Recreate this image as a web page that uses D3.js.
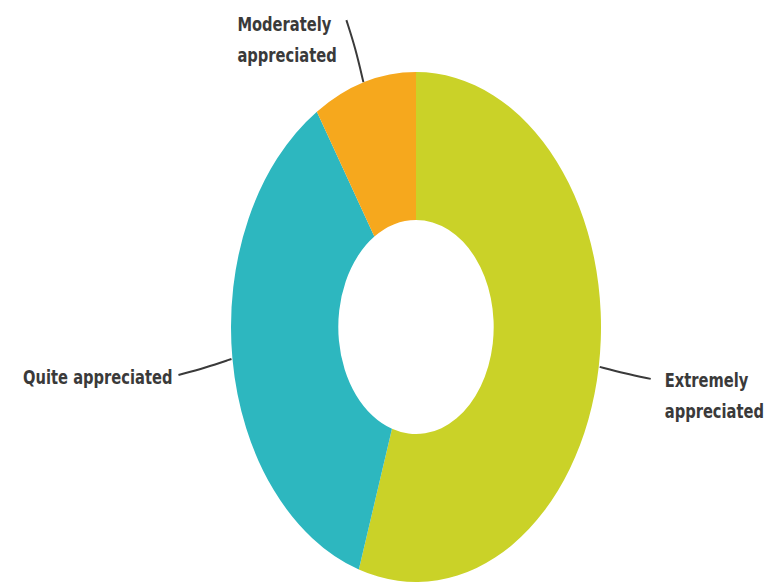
<!DOCTYPE html>
<html><head><meta charset="utf-8">
<script src="https://cdn.jsdelivr.net/npm/d3@7"></script>
<style>
html,body{margin:0;padding:0;background:#fff;}
svg{display:block;}
text{font-family:"DejaVu Sans Condensed","Liberation Sans",sans-serif;font-weight:bold;fill:#3a3a3a;}
</style></head>
<body>
<svg id="c" width="783" height="588"></svg>
<script>
const categories = ["Extremely appreciated", "Quite appreciated", "Moderately appreciated"];
const values = [55, 36, 9];
const colors = ["#cad228", "#2db7bf", "#f6a81d"];
const labelLines = [["Extremely", "appreciated"], ["Quite appreciated"], ["Moderately", "appreciated"]];

const W = 783, H = 588;
const cx = 416, cy = 327, ry = 255, rx = 185, inner = 0.42;
const svg = d3.select("#c");

const pie = d3.pie().sort(null).value(d => d.v);
const arcs = pie(categories.map((c, i) => ({c, v: values[i], i})));
const arc = d3.arc().innerRadius(ry * inner).outerRadius(ry);

const g = svg.append("g").attr("transform", `translate(${cx},${cy}) scale(${rx/ry},1)`);
g.selectAll("path").data(arcs).join("path")
  .attr("d", arc).attr("fill", d => colors[d.data.i]);

// label layout
const layout = [
  {dx: 52, dy: 12, tx: 66, ty: 20, anchor: "start"},
  {dx: -54, dy: 16, tx: -60, ty: 25, anchor: "end"},
  {dx: -18, dy: -62, tx: -127, ty: -51, anchor: "start"}
];
const pt = a => [cx + rx * Math.sin(a), cy - ry * Math.cos(a)];
arcs.forEach((d, k) => {
  const m = (d.startAngle + d.endAngle) / 2;
  const [x0, y0] = pt(m);
  const L = layout[d.data.i];
  svg.append("path")
    .attr("d", d3.line().curve(d3.curveBasis)([[x0 + 1 * Math.sign(L.dx), y0], [x0 + L.dx*0.5, y0 + L.dy*0.55], [x0 + L.dx, y0 + L.dy]]))
    .attr("fill", "none").attr("stroke", "#3a3a3a").attr("stroke-width", 2);
  const t = svg.append("text").attr("text-anchor", L.anchor)
    .attr("transform", `translate(${x0 + L.tx},${y0 + L.ty}) scale(0.86,1)`)
    .style("font-size", "19px");
  labelLines[d.data.i].forEach((s, j) => {
    t.append("tspan").attr("x", 0).attr("dy", j ? 31 : 0).text(s);
  });
});
</script>
</body></html>
